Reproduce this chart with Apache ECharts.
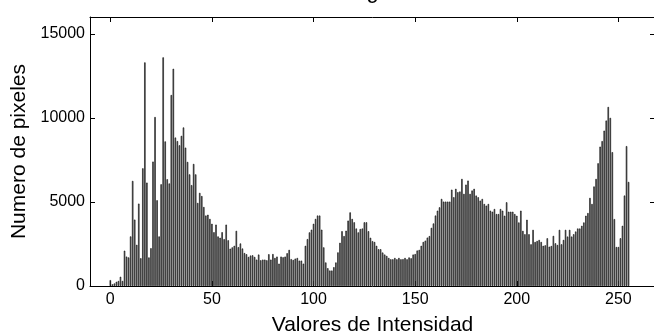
<!DOCTYPE html>
<html>
<head>
<meta charset="utf-8">
<script src="https://cdn.jsdelivr.net/npm/echarts@6/dist/echarts.min.js"></script>
<style>
html,body{margin:0;padding:0;background:#fff;}
#chart{width:654px;height:336px;}
</style>
</head>
<body>
<div id="chart"></div>
<script>
// Data: pixel counts for intensity values 0..255
const intensities = Array.from({length: 256}, (_, i) => i);
const counts0_39 = [350,100,150,250,300,550,300,2100,1750,1700,
  2950,6250,3950,2450,4900,1650,7000,13300,6150,1700,
  2250,7400,10050,5100,2950,6050,13600,8600,6350,6100,
  11360,12920,8830,8620,8370,8930,9430,8230,7380,6640];
const counts40_79 = [6000,7260,6640,4940,5540,5350,4700,4190,4240,3990,
  3700,3200,3650,2950,2870,3200,2790,3650,2720,2220,
  2300,2390,3280,2310,2530,2230,1960,1890,1730,1810,
  1830,1730,1570,1870,1530,1570,1570,1530,1890,1570];
const counts80_119 = [1900,1670,1750,1330,1750,1710,1750,1950,2150,1600,
  1550,1630,1670,1510,1510,1330,2390,2790,3190,3350,
  3700,3990,4190,4190,3350,2300,1400,1060,920,920,
  1120,1400,2000,2570,3260,2970,3290,3890,4380,3990];
const counts120_159 = [3790,3420,3190,3390,3420,3790,3790,3260,2870,2670,
  2620,2390,2190,2190,1990,1870,1790,1670,1590,1590,
  1670,1590,1670,1590,1600,1670,1590,1700,1650,1870,
  1900,2110,2150,2390,2620,2700,2880,2970,3460,3720];
const counts160_199 = [4190,4480,4680,5180,5020,5020,5020,5020,5730,5280,
  5780,5580,5620,6370,5480,6030,6270,5480,5680,5780,
  5380,5280,5080,5180,4880,4780,4880,4480,4420,4580,
  4280,4280,4580,4480,4180,4980,4420,4420,4420,4280];
const counts200_239 = [4180,3780,4480,3280,3080,3940,3080,2480,3340,2620,
  2680,2740,2620,2390,2420,2840,2340,2380,2980,2540,
  2440,3340,2480,2740,3340,2940,3340,2940,3080,3240,
  3420,3420,3580,3780,4180,4340,5240,4880,5920,6370];
const counts240_255 = [7300,8290,8620,9240,9840,10650,10000,7960,3980,2320,
  2320,2840,3580,5380,8320,6190];
const counts = [].concat(counts0_39, counts40_79, counts80_119, counts120_159,
  counts160_199, counts200_239, counts240_255);

const titleText = 'Histograma';
const xName = 'Valores de Intensidad';
const yName = 'Numero de pixeles';

const chart = echarts.init(document.getElementById('chart'), null, {renderer: 'canvas'});
const FONT = 'Liberation Sans, Arial, sans-serif';
chart.setOption({
  animation: false,
  backgroundColor: '#fff',
  textStyle: {fontFamily: FONT},
  graphic: [{
    type: 'text', x: 372.5, y: -8,
    style: {text: titleText, fontSize: 22, fontFamily: FONT, fill: '#000',
      textAlign: 'center', textVerticalAlign: 'middle'}
  }],
  grid: {left: 90, top: 17, width: 565, height: 269, containLabel: false,
    outerBoundsMode: 'none'},
  xAxis: [{
    type: 'value', position: 'bottom', min: -10, max: 268, splitNumber: 5,
    splitLine: {show: false},
    axisLine: {show: true, onZero: false, lineStyle: {color: '#000', width: 1}},
    axisTick: {show: true, inside: true, length: 5, lineStyle: {color: '#000'}},
    axisLabel: {color: '#000', fontSize: 16, fontFamily: FONT, margin: 6,
      showMinLabel: false, showMaxLabel: false, formatter: v => String(v)},
    name: xName, nameLocation: 'middle', nameGap: 29,
    nameTextStyle: {color: '#000', fontSize: 21, fontFamily: FONT}
  }, {
    type: 'value', position: 'top', min: -10, max: 268, splitNumber: 5,
    splitLine: {show: false},
    axisLine: {show: true, onZero: false, lineStyle: {color: '#000', width: 1}},
    axisTick: {show: true, inside: true, length: 5, lineStyle: {color: '#000'}},
    axisLabel: {show: false}
  }],
  yAxis: [{
    type: 'value', position: 'left', min: 0, max: 16000, splitNumber: 3,
    splitLine: {show: false},
    axisLine: {show: true, onZero: false, lineStyle: {color: '#000', width: 1}},
    axisTick: {show: true, inside: true, length: 5, lineStyle: {color: '#000'}},
    axisLabel: {color: '#000', fontSize: 16, fontFamily: FONT, margin: 5,
      showMaxLabel: false, formatter: v => String(v)},
    name: yName, nameLocation: 'middle', nameGap: 59, nameRotate: 90,
    nameTextStyle: {color: '#000', fontSize: 21, fontFamily: FONT}
  }, {
    type: 'value', position: 'right', min: 0, max: 16000, splitNumber: 3,
    splitLine: {show: false},
    axisLine: {show: true, onZero: false, lineStyle: {color: '#000', width: 1}},
    axisTick: {show: true, inside: true, length: 5, lineStyle: {color: '#000'}},
    axisLabel: {show: false}
  }],
  series: [{
    type: 'bar', xAxisIndex: 0, yAxisIndex: 0,
    data: intensities.map((v, i) => [v, counts[i]]),
    barWidth: 1.4,
    itemStyle: {color: '#7a7a7a', borderColor: '#000', borderWidth: 0.6},
    emphasis: {disabled: true}
  }]
});
</script>
</body>
</html>
